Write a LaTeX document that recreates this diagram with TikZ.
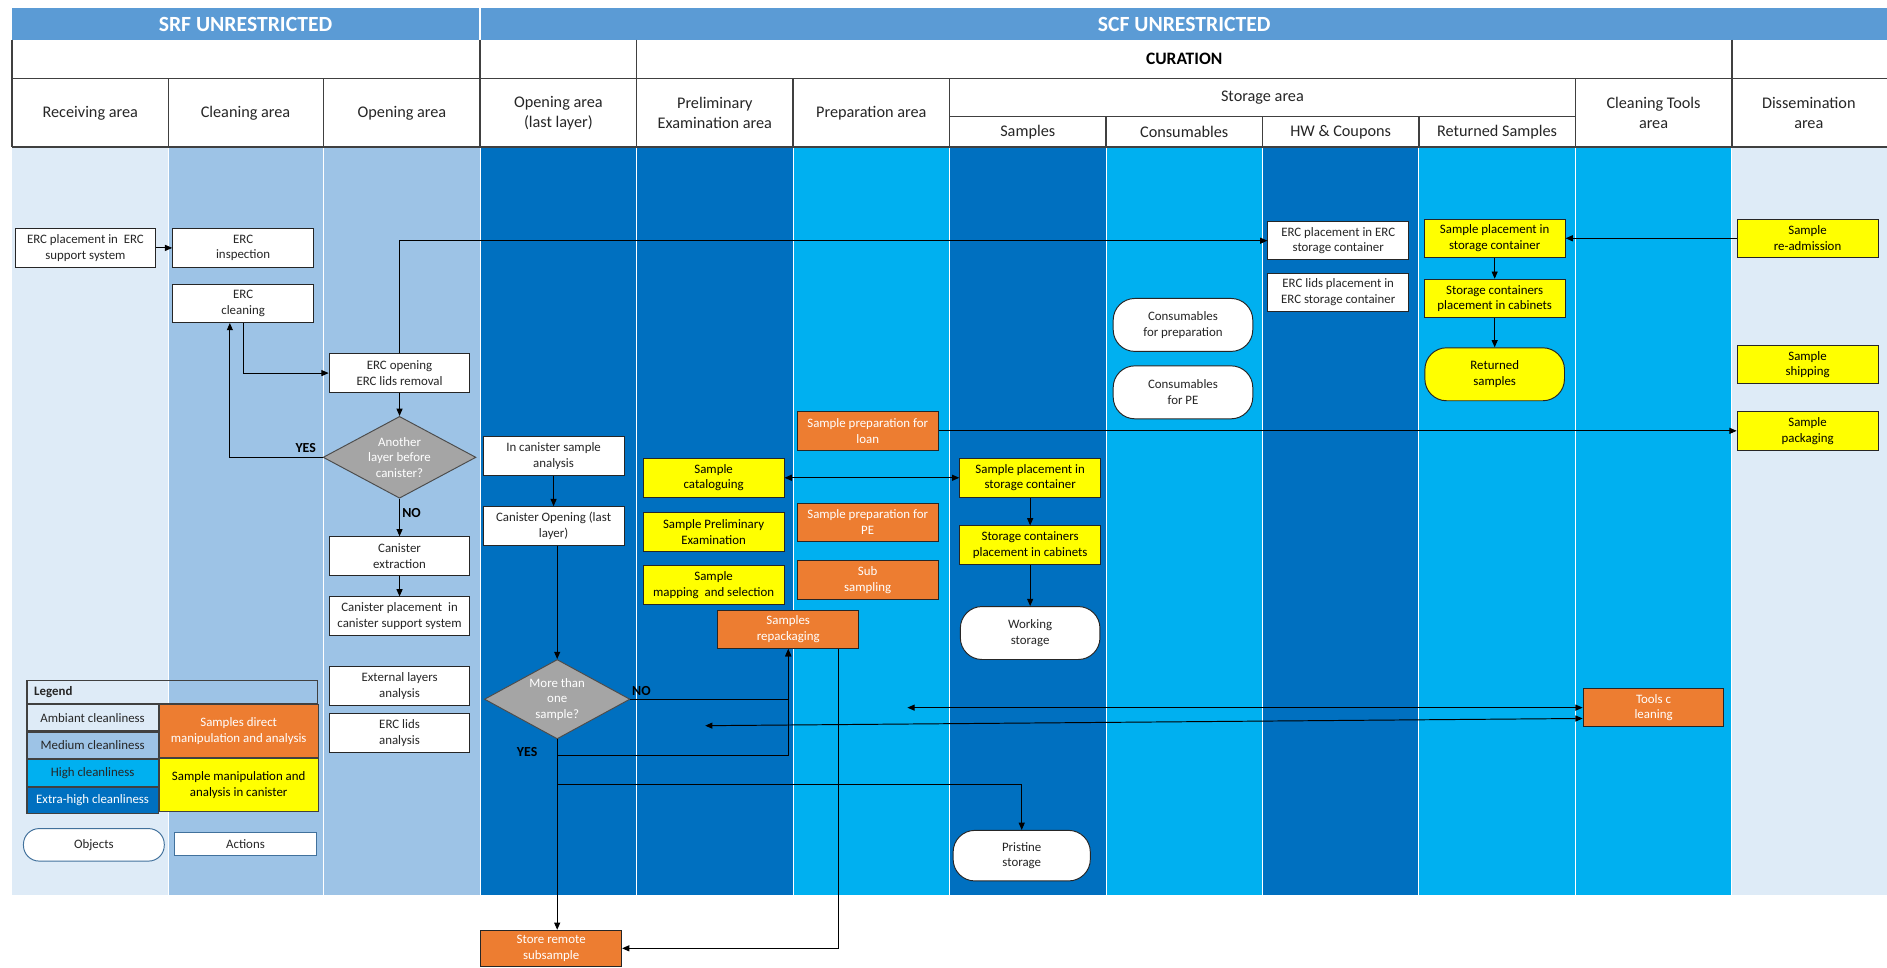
\documentclass[tikz,border=0pt]{standalone}
\usepackage{fontspec}
\setmainfont{Carlito}
\usetikzlibrary{shapes.geometric,positioning,arrows.meta}

\definecolor{ambc}{HTML}{DEEBF7}
\definecolor{medc}{HTML}{9DC3E6}
\definecolor{highc}{HTML}{00B0F0}
\definecolor{xhighc}{HTML}{0070C0}
\definecolor{bandc}{HTML}{5B9BD5}
\definecolor{orgc}{HTML}{ED7D31}
\definecolor{yelc}{HTML}{FFFF00}
\definecolor{grayc}{HTML}{A5A5A5}
\definecolor{linec}{HTML}{404040}
\definecolor{legc}{HTML}{41719C}

\begin{document}
\begin{tikzpicture}[x=1pt,y=-1pt]
		\tikzstyle{band}=[font=\bfseries\fontsize{18}{20}\selectfont, text=white]
		\tikzstyle{head}=[font=\fontsize{13.5}{16.5}\selectfont, align=center, text=black!85]
		\tikzstyle{grid}=[draw=linec, line width=1.2pt]
		\tikzstyle{act}=[rectangle, draw=black!85, fill=white, line width=0.8pt, minimum width=117pt, minimum height=32pt, inner sep=1pt, align=center, text=black!85, font=\fontsize{10.7}{13}\selectfont]
		\tikzstyle{yel}=[act, fill=yelc, text=black]
		\tikzstyle{org}=[act, fill=orgc, text=white]
		\tikzstyle{obj}=[act, rounded corners=18pt, minimum width=116pt, minimum height=44pt]
		\tikzstyle{dec}=[diamond, draw=black!70, fill=grayc, text=white, line width=0.8pt, inner sep=0pt, aspect=1.9, minimum width=127pt, minimum height=68pt, align=center, font=\fontsize{10.7}{13}\selectfont]
		\tikzstyle{cell}=[rectangle, draw=linec, line width=0.9pt, minimum width=109pt, minimum height=22pt, inner sep=0pt, align=center, text=black!85, font=\fontsize{10.7}{13}\selectfont]
		\tikzstyle{lbl}=[font=\bfseries\fontsize{11.5}{13}\selectfont, text=black]
		\tikzstyle{connect}=[draw=black, line width=0.8pt, -{Triangle[length=6pt,width=5pt]}]
		\tikzstyle{connect2}=[connect, {Triangle[length=6pt,width=5pt]}-{Triangle[length=6pt,width=5pt]}]

		\useasboundingbox (0,0) rectangle (1568,804);

		% lanes
		\fill[ambc]   (10,122)   rectangle (140,744);
		\fill[medc]   (140,122)  rectangle (269,744);
		\fill[medc]   (269,122)  rectangle (399,744);
		\fill[xhighc] (399,122)  rectangle (529,744);
		\fill[xhighc] (529,122)  rectangle (659,744);
		\fill[highc]  (659,122)  rectangle (789,744);
		\fill[xhighc] (789,122)  rectangle (919,744);
		\fill[highc]  (919,122)  rectangle (1049,744);
		\fill[xhighc] (1049,122) rectangle (1179,744);
		\fill[highc]  (1179,122) rectangle (1309,744);
		\fill[highc]  (1309,122) rectangle (1439,744);
		\fill[ambc]   (1439,122) rectangle (1568,744);
		\draw[white, line width=0.7pt]
		(140,122) -- (140,744) (269,122) -- (269,744) (399,122) -- (399,744)
		(529,122) -- (529,744) (659,122) -- (659,744) (789,122) -- (789,744)
		(919,122) -- (919,744) (1049,122) -- (1049,744) (1179,122) -- (1179,744)
		(1309,122) -- (1309,744) (1439,122) -- (1439,744);

		% header
		\fill[bandc] (10,7) rectangle (1568,33);
		\draw[white, line width=1.4pt] (399,7) -- (399,33);
		\node[band] (srf) at (204,20) {SRF UNRESTRICTED};
		\node[band] (scf) at (984,20) {SCF UNRESTRICTED};
		\fill[white] (10,33) rectangle (1568,122);
		\draw[grid] (10,33) -- (10,122) (399,33) -- (399,122) (529,33) -- (529,122) (1439,33) -- (1439,122)
		(10,65) -- (1568,65) (10,122) -- (1568,122) (789,97) -- (1309,97)
		(140,65) -- (140,122) (269,65) -- (269,122) (659,65) -- (659,122) (789,65) -- (789,122)
		(1309,65) -- (1309,122) (919,97) -- (919,122) (1049,97) -- (1049,122) (1179,97) -- (1179,122);
		\node[font=\bfseries\fontsize{14.5}{16}\selectfont] (cur) at (984,49) {CURATION};
		\node[head] (h1)  at (75,94)   {Receiving area};
		\node[head] (h2)  at (204,94)  {Cleaning area};
		\node[head] (h3)  at (334,94)  {Opening area};
		\node[head] (h4)  at (464,94)  {Opening area\\(last layer)};
		\node[head] (h5)  at (594,94)  {Preliminary\\Examination area};
		\node[head] (h6)  at (724,94)  {Preparation area};
		\node[head] (h7)  at (1049,81) {Storage area};
		\node[head] (h8)  at (854,110) {Samples};
		\node[head] (h9)  at (984,110) {Consumables};
		\node[head] (h10) at (1114,110) {HW \& Coupons};
		\node[head] (h11) at (1244,110) {Returned Samples};
		\node[head] (h12) at (1374,94) {Cleaning Tools\\area};
		\node[head] (h13) at (1503,94) {Dissemination\\area};

		% SRF part
		\node[act] (rcs) at (71,206)  {ERC placement in\ \ ERC\\support system};
		\node[act] (ins) at (202,206) {ERC\\inspection};
		\node[act] (cln) at (202,252) {ERC\\cleaning};
		\node[act] (opn) at (332,310) {ERC opening\\ERC lids removal};
		\node[dec] (anl) at (332,380) {Another\\layer before\\canister?};
		\node[act] (ext) at (332,462) {Canister\\extraction};
		\node[act] (cpl) at (332,512) {Canister placement\ \ in\\canister support system};
		\node[act] (ela) at (332,570) {External layers\\analysis};
		\node[act] (lid) at (332,609) {ERC lids\\analysis};

		% last layer
		\node[act] (ica) at (460,379) {In canister sample\\analysis};
		\node[act] (cop) at (460,437) {Canister Opening (last\\layer)};
		\node[dec, aspect=1.82, minimum width=121pt, minimum height=66pt] (mos) at (463,581) {More than\\one\\sample?};
		\node[org, minimum height=30pt] (srs) at (458,788) {Store remote\\subsample};

		% preliminary examination and preparation
		\node[yel] (cat) at (593,397) {Sample\\cataloguing};
		\node[yel] (spe) at (593,442) {Sample Preliminary\\Examination};
		\node[yel] (map) at (593,486) {Sample\\mapping\ \ and selection};
		\node[org] (rep) at (655,523) {Samples\\repackaging};
		\node[org] (lon) at (721,358) {Sample preparation for\\loan};
		\node[org] (ppe) at (721,434) {Sample preparation for\\PE};
		\node[org] (sub) at (721,482) {Sub\\sampling};

		% storage
		\node[yel] (ssc) at (856,397) {Sample placement in\\storage container};
		\node[yel] (scc) at (856,453) {Storage containers\\placement in cabinets};
		\node[obj] (wst) at (856,526) {Working\\storage};
		\node[obj, minimum width=114pt, minimum height=42pt] (pri) at (849,711) {Pristine\\storage};
		\node[obj] (cfp) at (983,270) {Consumables\\for preparation};
		\node[obj] (cpe) at (983,326) {Consumables\\for PE};
		\node[act] (ers) at (1112,200) {ERC placement in ERC\\storage container};
		\node[act] (els) at (1112,243) {ERC lids placement in\\ERC storage container};
		\node[yel] (rsc) at (1242,198) {Sample placement in\\storage container};
		\node[yel] (rcc) at (1242,248) {Storage containers\\placement in cabinets};
		\node[obj, fill=yelc, text=black] (ret) at (1242,311) {Returned\\samples};

		% tools and dissemination
		\node[org] (tcl) at (1374,588) {Tools c\\leaning};
		\node[yel] (rad) at (1502,198) {Sample\\re-admission};
		\node[yel] (shp) at (1502,303) {Sample\\shipping};
		\node[yel] (pck) at (1502,358) {Sample\\packaging};

		% legend
		\node[cell, minimum width=241pt, minimum height=19pt, text width=229pt, align=left, font=\bfseries\fontsize{10.7}{13}\selectfont] (lgh) at (22,565) [anchor=north west] {Legend};
		\node[cell, fill=ambc] (l1) [below=0pt of lgh.south west, anchor=north west] {Ambiant cleanliness};
		\node[cell, fill=medc] (l2) [below=0pt of l1] {Medium cleanliness};
		\node[cell, fill=highc] (l3) [below=0pt of l2] {High cleanliness};
		\node[cell, fill=xhighc, text=white] (l4) [below=0pt of l3] {Extra-high cleanliness};
		\node[cell, fill=orgc, text=white, minimum width=132pt, minimum height=44pt] (l5) [right=0pt of l1.north east, anchor=north west] {Samples direct\\manipulation and analysis};
		\node[cell, fill=yelc, text=black, minimum width=132pt, minimum height=44pt] (l6) [below=0pt of l5] {Sample manipulation and\\analysis in canister};
		\node[obj, draw=legc, minimum width=117pt, minimum height=27pt, rounded corners=13pt] (lob) at (78,702) {Objects};
		\node[act, draw=legc, minimum width=118pt, minimum height=19pt] (lac) at (204,701) {Actions};

		% labels
		\node[lbl] (y1) at (254,372) {YES};
		\node[lbl] (n1) at (342,426) {NO};
		\node[lbl] (n2) at (533,574) {NO};
		\node[lbl] (y2) at (438,625) {YES};

		\coordinate (yb) at (463,628);
		\coordinate (yp) at (463,652);
		\coordinate (t1) at (754,588);
		\coordinate (t2) at (586,603);

		\path
		(rcs) edge [connect] (ins)
		(opn) edge [connect] (anl)
		(anl) edge [connect] (ext)
		(ext) edge [connect] (cpl)
		(ica) edge [connect] (cop)
		(ssc) edge [connect] (scc)
		(scc) edge [connect] (wst)
		(rsc) edge [connect] (rcc)
		(rcc) edge [connect] (ret)
		(rad) edge [connect] (rsc)
		(lon) edge [connect] (pck)
		(cat) edge [connect2] (ssc)
		(t1)  edge [connect2] (tcl.west)
		;

		\draw[connect] (cln.south) |- (opn.west);
		\draw[connect] (anl.west) -| ([xshift=-11pt]cln.south);
		\draw[connect] (opn.north) |- (ers.west);
		\draw[connect] (mos.north |- cop.south) -- (mos.north);
		\draw[connect] (mos.south) -- (mos.south |- srs.north);
		\draw[connect] (mos.east) -| (rep.south);
		\draw[connect] (yb) -| (rep.south);
		\draw[connect] (yp) -| (pri.north);
		\draw[connect] ([xshift=42pt]rep.south) |- (srs.east);
		\draw[connect2] (t2) -- ([yshift=-9pt]tcl.west);
\end{tikzpicture}
\end{document}
